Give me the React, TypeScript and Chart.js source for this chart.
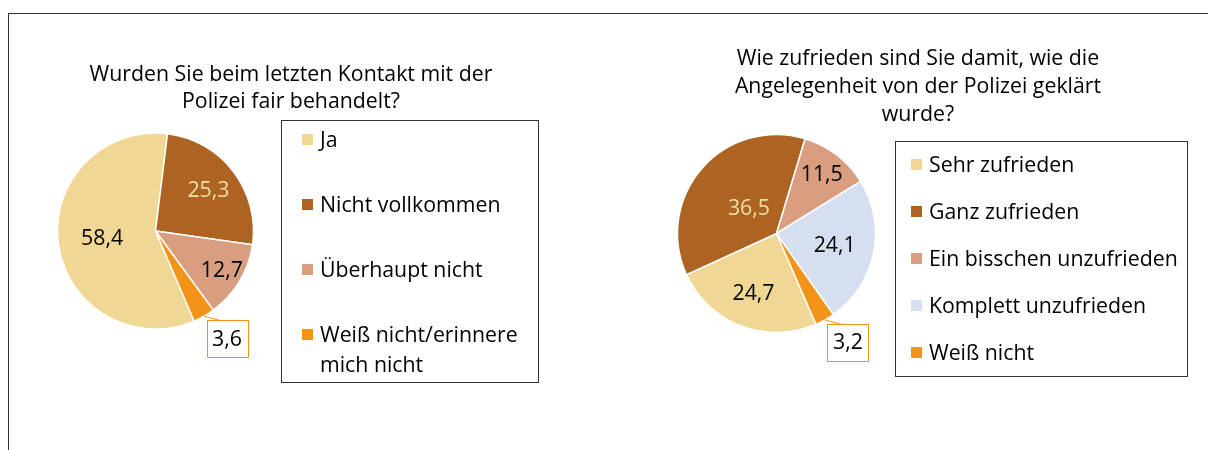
import React, { useEffect, useRef } from "react";
import { Chart, registerables } from "chart.js";

Chart.register(...registerables);

// ---- data ----
const fairTitle = ["Wurden Sie beim letzten Kontakt mit der", "Polizei fair behandelt?"];
const fairCategories = ["Ja", "Nicht vollkommen", "Überhaupt nicht", "Weiß nicht/erinnere mich nicht"];
const fairValues = [58.4, 25.3, 12.7, 3.6];

const satisTitle = ["Wie zufrieden sind Sie damit, wie die", "Angelegenheit von der Polizei geklärt", "wurde?"];
const satisCategories = ["Sehr zufrieden", "Ganz zufrieden", "Ein bisschen unzufrieden", "Komplett unzufrieden", "Weiß nicht"];
const satisValues = [24.7, 36.5, 11.5, 24.1, 3.2];

// ---- styles ----
const FONT = "'Open Sans', 'Noto Sans', sans-serif";
const FS = 21.3;
const fairColors = ["#F0D794", "#AD6321", "#D99E7F", "#F29418"];
const satisColors = ["#F0D794", "#AD6321", "#D99E7F", "#D5DFEF", "#F29418"];
const fairLabelColors = ["#000", "#F3DFA6", "#000", "#000"];
const satisLabelColors = ["#000", "#F3DFA6", "#000", "#000", "#000"];
const fairLabelRadius = [0.55, 0.68, 0.79, 0];
const satisLabelRadius = [0.65, 0.37, 0.75, 0.6, 0];

const fmt = (v: number) => v.toFixed(1).replace(".", ",");

const labelPlugin = {
  id: "sliceLabels",
  afterDatasetsDraw(chart: any, _args: any, opts: any) {
    const ctx = chart.ctx;
    const meta = chart.getDatasetMeta(0);
    const values = chart.data.datasets[0].data as number[];
    ctx.save();
    ctx.font = `${FS}px ${FONT}`;
    ctx.textAlign = "center";
    ctx.textBaseline = "middle";
    meta.data.forEach((arc: any, i: number) => {
      const { x, y, startAngle, endAngle, outerRadius } = arc.getProps(
        ["x", "y", "startAngle", "endAngle", "outerRadius"],
        true
      );
      const mid = (startAngle + endAngle) / 2;
      const v = values[i];
      if (v < 5) {
        const px = x + Math.cos(mid) * outerRadius;
        const py = y + Math.sin(mid) * outerRadius;
        const bx = px + 2.5;
        const by = py + 4;
        const bw = 41;
        const bh = 37;
        ctx.strokeStyle = opts.calloutColor;
        ctx.lineWidth = 1;
        ctx.fillStyle = "#fff";
        ctx.fillRect(bx, by, bw, bh);
        ctx.strokeRect(Math.round(bx) + 0.5, Math.round(by) + 0.5, bw, bh);
        ctx.beginPath();
        ctx.moveTo(px, py);
        ctx.lineTo(bx + 14, by + 0.5);
        ctx.stroke();
        ctx.fillStyle = "#000";
        ctx.fillText(fmt(v), bx + bw / 2, by + bh / 2 + 1);
      } else {
        const r = outerRadius * opts.radii[i];
        ctx.fillStyle = opts.colors[i];
        ctx.fillText(fmt(v), x + Math.cos(mid) * r, y + Math.sin(mid) * r);
      }
    });
    ctx.restore();
  },
};

type PieProps = {
  left: number;
  width: number;
  cx: number;
  cy: number;
  radius: number;
  rotation: number;
  labels: string[];
  values: number[];
  colors: string[];
  labelColors: string[];
  labelRadii: number[];
};

function Pie(p: PieProps) {
  const ref = useRef<HTMLCanvasElement>(null);
  useEffect(() => {
    if (!ref.current) return;
    const H = 450;
    const chart = new Chart(ref.current, {
      type: "pie",
      data: {
        labels: p.labels,
        datasets: [
          {
            data: p.values,
            backgroundColor: p.colors,
            borderColor: "#ffffff",
            borderWidth: 1.5,
            hoverOffset: 0,
          },
        ],
      },
      options: {
        responsive: false,
        animation: false,
        devicePixelRatio: 1,
        rotation: p.rotation,
        radius: p.radius,
        layout: {
          padding: {
            left: p.cx - 100,
            right: p.width - (p.cx + 100),
            top: p.cy - 100,
            bottom: H - (p.cy + 100),
          },
        },
        plugins: {
          legend: { display: false },
          title: { display: false },
          tooltip: { enabled: false },
          sliceLabels: { colors: p.labelColors, radii: p.labelRadii, calloutColor: "#F29418" },
        } as any,
      },
      plugins: [labelPlugin],
    });
    return () => chart.destroy();
  }, []);
  return (
    <canvas
      ref={ref}
      width={p.width}
      height={450}
      style={{ position: "absolute", left: p.left, top: 0, width: p.width, height: 450 }}
    />
  );
}

type LegendProps = {
  left: number;
  top: number;
  width: number;
  height: number;
  padTop: number;
  gap: number;
  markerLeft: number;
  textWidth: number;
  labels: string[];
  colors: string[];
};

function Legend(p: LegendProps) {
  return (
    <div
      style={{
        position: "absolute",
        left: p.left,
        top: p.top,
        width: p.width,
        height: p.height,
        boxSizing: "border-box",
        border: "1px solid #333",
        paddingTop: p.padTop,
        fontFamily: FONT,
        fontSize: FS,
        lineHeight: "30px",
        color: "#000",
      }}
    >
      {p.labels.map((l, i) => (
        <div key={l} style={{ display: "flex", alignItems: "flex-start", marginBottom: p.gap, paddingLeft: p.markerLeft }}>
          <span
            style={{
              display: "inline-block",
              width: 11,
              height: 11,
              background: p.colors[i],
              marginTop: 10,
              marginRight: 7,
              flex: "0 0 auto",
            }}
          />
          <span style={{ width: p.textWidth }}>{l}</span>
        </div>
      ))}
    </div>
  );
}

function Title({ lines, cx, top, lh }: { lines: string[]; cx: number; top: number; lh: number }) {
  return (
    <div
      style={{
        position: "absolute",
        left: cx - 260,
        width: 520,
        top,
        textAlign: "center",
        fontFamily: FONT,
        fontSize: FS,
        lineHeight: `${lh}px`,
        color: "#000",
      }}
    >
      {lines.map((l) => (
        <div key={l}>{l}</div>
      ))}
    </div>
  );
}

export default function App() {
  useEffect(() => {
    document.body.style.margin = "0";
  }, []);
  return (
    <div style={{ position: "relative", width: 1208, height: 450, overflow: "hidden", background: "#fff" }}>
      <div
        style={{
          position: "absolute",
          left: 8,
          top: 13,
          width: 1400,
          height: 600,
          borderLeft: "1px solid #333",
          borderTop: "1px solid #333",
        }}
      />
      <Pie
        left={0}
        width={600}
        cx={155.5}
        cy={231}
        radius={98}
        rotation={-203.2}
        labels={fairCategories}
        values={fairValues}
        colors={fairColors}
        labelColors={fairLabelColors}
        labelRadii={fairLabelRadius}
      />
      <Pie
        left={600}
        width={608}
        cx={176.5}
        cy={233.5}
        radius={99}
        rotation={-203.5}
        labels={satisCategories}
        values={satisValues}
        colors={satisColors}
        labelColors={satisLabelColors}
        labelRadii={satisLabelRadius}
      />
      <Title lines={fairTitle} cx={291} top={59} lh={27} />
      <Title lines={satisTitle} cx={918} top={43} lh={28} />
      <Legend
        left={281}
        top={120}
        width={258}
        height={263}
        padTop={3}
        gap={35}
        markerLeft={20}
        textWidth={210}
        labels={fairCategories}
        colors={fairColors}
      />
      <Legend
        left={895}
        top={141}
        width={293}
        height={236}
        padTop={7}
        gap={17}
        markerLeft={15}
        textWidth={268}
        labels={satisCategories}
        colors={satisColors}
      />
    </div>
  );
}
